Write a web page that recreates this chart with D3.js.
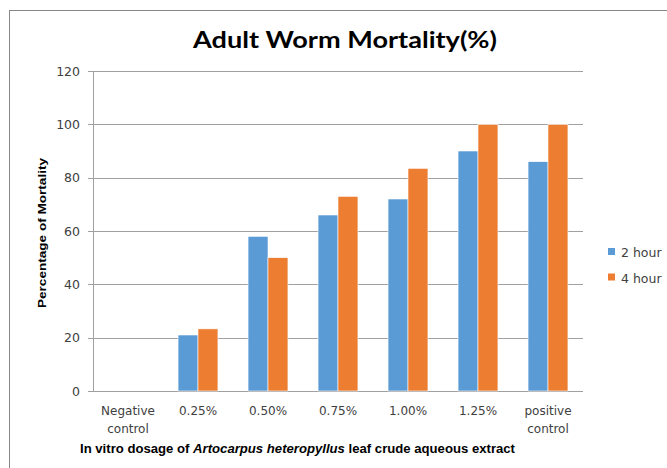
<!DOCTYPE html>
<html><head><meta charset="utf-8">
<script src="https://cdn.jsdelivr.net/npm/d3@7"></script>
<style>body{margin:0;background:#fff}svg{display:block}</style>
</head><body>
<script>
const categories = ["Negative control","0.25%","0.50%","0.75%","1.00%","1.25%","positive control"];
const seriesNames = ["2 hour","4 hour"];
const hour2 = [0, 21, 58, 66, 72, 90, 86];
const hour4 = [0, 23.3, 50, 73, 83.5, 100, 100];
const yTicks = [0,20,40,60,80,100,120];
const colors = ["#5b9bd5","#ed7d31"];

const W=667,H=468;
const svg=d3.select("body").append("svg").attr("width",W).attr("height",H);
svg.append("rect").attr("x",9.5).attr("y",10.5).attr("width",700).attr("height",500)
  .attr("fill","#fff").attr("stroke","#878787").attr("stroke-width",1);

const L=93,R=583,T=71,B=391;
const x=d3.scaleBand().domain(categories).range([L,R]).paddingInner(0.43).paddingOuter(0.215);
const y=d3.scaleLinear().domain([0,120]).range([B,T]);
const xs=d3.scaleBand().domain(seriesNames).range([0,x.bandwidth()]);

const font="Lato, 'Open Sans', sans-serif";
const font2="'DejaVu Sans', Verdana, sans-serif";
// gridlines
svg.append("g").selectAll("line").data(yTicks).join("line")
  .attr("x1",L-5).attr("x2",R).attr("y1",d=>Math.round(y(d))+0.5).attr("y2",d=>Math.round(y(d))+0.5)
  .attr("stroke","#a0a0a0").attr("stroke-width",1);
svg.append("line").attr("x1",L+0.5).attr("x2",L+0.5).attr("y1",T).attr("y2",B+0.5).attr("stroke","#a0a0a0");

// y labels
svg.append("g").selectAll("text").data(yTicks).join("text")
  .attr("x",80).attr("y",d=>y(d)+4.5).attr("text-anchor","end")
  .attr("font-family",font2).attr("font-size",12.5).attr("fill","#404040").text(d=>d);

// bars
const data=categories.map((c,i)=>({c,vals:[hour2[i],hour4[i]]}));
const g=svg.append("g");
data.forEach(d=>{
  d.vals.forEach((v,j)=>{
    if(v<=0) return;
    g.append("rect").attr("x",x(d.c)+xs(seriesNames[j])).attr("y",y(v))
      .attr("width",xs.bandwidth()).attr("height",B-y(v))
      .attr("fill",colors[j]).attr("stroke","#fff").attr("stroke-width",0.6);
  });
});

// x labels
data.forEach(d=>{
  const parts=d.c.split(" ");
  const cx=x(d.c)+x.bandwidth()/2;
  const t=svg.append("text").attr("text-anchor","middle").attr("font-family",font2)
    .attr("font-size",12).attr("fill","#404040");
  parts.forEach((p,k)=>t.append("tspan").attr("x",cx).attr("y",415+k*17.5).text(p));
});

// title
svg.append("text").attr("x",345).attr("y",48).attr("text-anchor","middle")
  .attr("font-family",font).attr("font-weight","bold").attr("font-size",22).attr("fill","#000")
  .attr("textLength",304).attr("lengthAdjust","spacingAndGlyphs")
  .text("Adult Worm Mortality(%)");

// y axis title
svg.append("text").attr("transform","translate(46,233) rotate(-90)").attr("text-anchor","middle")
  .attr("font-family","'Liberation Sans', Arial, sans-serif").attr("font-weight","bold").attr("font-size",11.5)
  .attr("textLength",150).attr("lengthAdjust","spacingAndGlyphs")
  .text("Percentage of Mortality");

// x axis title
const xt=svg.append("text").attr("x",80).attr("y",453)
  .attr("font-family","'Liberation Sans', Arial, sans-serif").attr("font-weight","bold").attr("font-size",12.5)
  .attr("textLength",435).attr("lengthAdjust","spacingAndGlyphs");
xt.append("tspan").text("In vitro dosage of  ");
xt.append("tspan").attr("font-style","italic").text("Artocarpus heteropyllus");
xt.append("tspan").text(" leaf crude aqueous extract");

// legend
const lg=svg.append("g");
seriesNames.forEach((s,i)=>{
  lg.append("rect").attr("x",608).attr("y",248+i*25.5).attr("width",7).attr("height",7).attr("fill",colors[i]);
  lg.append("text").attr("x",621).attr("y",257+i*25.5).attr("font-family",font2).attr("font-size",12.5)
    .attr("fill","#404040").text(s);
});
</script>
</body></html>
